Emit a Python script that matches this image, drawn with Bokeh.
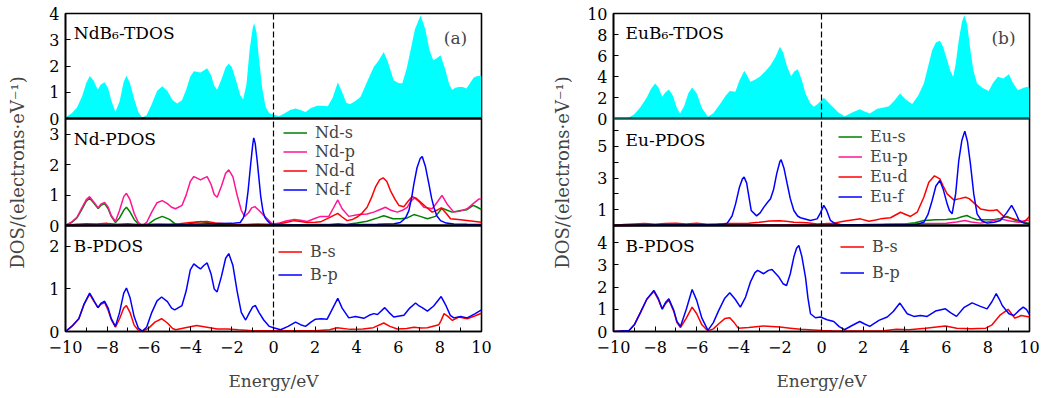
from bokeh.plotting import figure
from bokeh.layouts import row
from bokeh.models import Range1d, FixedTicker, Span, Label, Legend, LegendItem
from bokeh.embed import file_html
from bokeh.resources import INLINE

# ---------------- data (energy in eV, DOS in electrons/eV) ----------------
nd_tdos = [(-10,0.05),(-9.7,0.2),(-9.45,0.42),(-9.2,0.85),(-9.0,1.35),(-8.83,1.62),(-8.65,1.45),(-8.45,1.1),
           (-8.3,1.3),(-8.12,1.38),(-7.95,1.15),(-7.8,0.7),(-7.6,0.25),(-7.4,0.65),(-7.2,1.4),(-7.07,1.63),
           (-6.9,1.35),(-6.7,0.75),(-6.5,0.25),(-6.31,0.04),(-6.1,0.12),(-5.85,0.55),(-5.6,1.05),(-5.35,1.23),
           (-5.1,1.05),(-4.85,0.7),(-4.63,0.57),(-4.4,0.7),(-4.2,1.1),(-4.0,1.6),(-3.83,1.8),(-3.51,1.75),
           (-3.19,1.91),(-3.0,1.65),(-2.85,1.25),(-2.71,1.1),(-2.5,1.5),(-2.3,1.95),(-2.15,2.09),(-2.0,1.95),
           (-1.8,1.45),(-1.6,0.9),(-1.46,0.72),(-1.3,1.3),(-1.15,2.6),(-1.0,3.45),(-0.93,3.63),(-0.82,3.3),
           (-0.7,2.3),(-0.55,1.2),(-0.38,0.44),(-0.2,0.2),(0.0,0.15),(0.26,0.09),(0.5,0.18),(0.8,0.32),
           (1.06,0.38),(1.3,0.32),(1.54,0.25),(1.8,0.4),(2.1,0.49),(2.35,0.49),(2.61,0.47),(2.85,0.8),
           (3.09,1.38),(3.3,1.0),(3.5,0.6),(3.67,0.54),(3.9,0.65),(4.18,0.82),(4.5,1.4),(4.82,1.96),
           (5.05,2.2),(5.3,2.53),(5.5,2.15),(5.78,1.46),(6.0,1.35),(6.19,1.33),(6.4,1.9),(6.59,2.6),
           (6.8,3.4),(7.07,3.92),(7.3,3.4),(7.5,2.6),(7.68,2.22),(7.85,2.3),(8.03,2.41),(8.25,1.9),
           (8.45,1.3),(8.59,1.1),(8.75,1.17),(8.91,1.2),(9.1,1.2),(9.28,1.14),(9.45,1.35),(9.63,1.56),
           (9.8,1.62),(10.0,1.63)]

nd_s = [(-10,0),(-9.7,0.1),(-9.45,0.25),(-9.2,0.55),(-9.0,0.8),(-8.84,0.9),(-8.65,0.75),(-8.43,0.56),
        (-8.3,0.66),(-8.12,0.72),(-7.95,0.55),(-7.8,0.3),(-7.6,0.1),(-7.4,0.25),(-7.2,0.5),(-7.07,0.6),
        (-6.9,0.45),(-6.7,0.2),(-6.5,0.05),(-6.31,0.0),(-6.0,0.05),(-5.7,0.2),(-5.35,0.3),(-5.0,0.2),
        (-4.7,0.04),(-4.3,0.02),(-3.9,0.08),(-3.5,0.13),(-3.1,0.08),(-2.7,0.03),(-2.0,0.02),(-1.0,0.02),
        (0,0.02),(1,0.02),(2,0.03),(2.7,0.03),(3.1,0.06),(3.5,0.03),(4.0,0.08),(4.5,0.14),(5.0,0.25),
        (5.3,0.32),(5.75,0.22),(6.1,0.22),(6.43,0.25),(6.75,0.36),(7.05,0.3),(7.4,0.22),(7.79,0.3),
        (8.1,0.57),(8.35,0.5),(8.59,0.44),(9.0,0.49),(9.3,0.52),(9.6,0.66),(9.8,0.6),(10,0.52)]

nd_p = [(-10,0),(-9.7,0.12),(-9.45,0.27),(-9.2,0.6),(-9.0,0.85),(-8.84,0.95),(-8.65,0.78),(-8.43,0.58),
        (-8.3,0.7),(-8.12,0.76),(-7.95,0.6),(-7.8,0.33),(-7.6,0.13),(-7.4,0.5),(-7.2,0.95),(-7.07,1.06),
        (-6.9,0.85),(-6.7,0.4),(-6.5,0.1),(-6.31,0.0),(-6.1,0.1),(-5.85,0.45),(-5.6,0.75),(-5.35,0.82),
        (-5.1,0.72),(-4.9,0.6),(-4.71,0.55),(-4.4,0.66),(-4.2,1.0),(-4.0,1.45),(-3.83,1.61),(-3.65,1.55),
        (-3.51,1.5),(-3.35,1.56),(-3.19,1.61),(-3.0,1.35),(-2.85,1.02),(-2.71,0.93),(-2.5,1.3),(-2.3,1.72),
        (-2.15,1.83),(-1.95,1.6),(-1.75,1.0),(-1.55,0.5),(-1.39,0.3),(-1.2,0.42),(-1.05,0.58),(-0.9,0.62),
        (-0.7,0.5),(-0.5,0.35),(-0.3,0.22),(-0.1,0.08),(0,0.05),(0.3,0.08),(0.6,0.15),(1.0,0.2),
        (1.3,0.17),(1.62,0.13),(1.95,0.22),(2.26,0.3),(2.66,0.3),(2.9,0.6),(3.09,0.84),(3.3,0.55),
        (3.62,0.3),(4.1,0.36),(4.5,0.38),(4.82,0.44),(5.1,0.52),(5.38,0.6),(5.65,0.5),(5.95,0.44),
        (6.2,0.5),(6.43,0.6),(6.6,0.8),(6.78,0.91),(7.0,0.78),(7.23,0.6),(7.63,0.55),(7.85,0.75),
        (8.1,0.99),(8.35,0.7),(8.67,0.44),(9.0,0.48),(9.31,0.55),(9.6,0.72),(9.87,0.87),(10,0.87)]

nd_d = [(-10,0.0),(-9.5,0.04),(-9.0,0.06),(-8.5,0.05),(-8.0,0.07),(-7.5,0.04),(-7.0,0.06),(-6.5,0.03),
        (-6.0,0.04),(-5.5,0.05),(-5.0,0.04),(-4.5,0.06),(-4.0,0.1),(-3.5,0.12),(-3.2,0.13),(-2.8,0.08),
        (-2.3,0.06),(-1.8,0.04),(-1.3,0.03),(-0.8,0.05),(-0.3,0.04),(0,0.03),(0.5,0.08),(1.0,0.16),
        (1.3,0.13),(1.6,0.1),(2.0,0.11),(2.26,0.12),(2.66,0.25),(3.09,0.4),(3.3,0.28),(3.54,0.16),
        (3.8,0.2),(4.0,0.27),(4.25,0.4),(4.5,0.6),(4.7,0.9),(4.9,1.26),(5.1,1.5),(5.27,1.57),(5.45,1.45),
        (5.62,1.15),(5.85,0.85),(6.03,0.66),(6.27,0.62),(6.47,0.8),(6.67,0.95),(6.85,0.9),(7.07,0.77),
        (7.35,0.6),(7.63,0.44),(7.85,0.5),(8.06,0.58),(8.3,0.4),(8.51,0.22),(9.0,0.19),(9.5,0.15),(10,0.11)]

nd_f = [(-10,0),(-8,0.01),(-6,0.02),(-4,0.04),(-3,0.06),(-2.0,0.07),(-1.6,0.1),(-1.45,0.25),(-1.34,0.5),
        (-1.22,1.15),(-1.1,2.0),(-1.0,2.65),(-0.95,2.88),(-0.88,2.7),(-0.78,2.1),(-0.7,1.55),(-0.61,0.93),
        (-0.5,0.45),(-0.4,0.25),(-0.3,0.16),(-0.15,0.06),(0,0.02),(1,0.02),(2,0.02),(3,0.02),(4,0.03),
        (5,0.04),(5.8,0.06),(6.1,0.1),(6.35,0.25),(6.51,0.49),(6.65,0.95),(6.75,1.37),(6.9,1.9),(7.05,2.2),
        (7.15,2.27),(7.3,1.95),(7.47,1.37),(7.6,0.9),(7.71,0.6),(7.85,0.32),(8.03,0.16),(8.3,0.08),
        (8.67,0.05),(9.3,0.04),(10,0.03)]

nd_bs = [(-10,0),(-9.7,0.12),(-9.36,0.3),(-9.1,0.65),(-8.84,0.88),(-8.65,0.72),(-8.44,0.56),(-8.3,0.64),
         (-8.12,0.68),(-7.95,0.5),(-7.8,0.28),(-7.6,0.1),(-7.4,0.3),(-7.2,0.55),(-7.07,0.61),(-6.9,0.45),
         (-6.7,0.15),(-6.5,0.03),(-6.31,0.0),(-6.0,0.08),(-5.7,0.22),(-5.38,0.3),(-5.1,0.2),(-4.85,0.07),
         (-4.7,0.04),(-4.3,0.08),(-3.7,0.14),(-3.2,0.1),(-2.7,0.06),(-2.2,0.06),(-1.7,0.04),(-1.0,0.02),
         (0,0.02),(1,0.02),(2,0.02),(2.7,0.04),(3.06,0.09),(3.7,0.05),(4.3,0.06),(4.8,0.09),(5.3,0.2),
         (5.6,0.12),(5.95,0.06),(6.4,0.07),(6.75,0.1),(7.1,0.08),(7.4,0.09),(7.95,0.16),(8.05,0.25),
         (8.2,0.42),(8.4,0.35),(8.6,0.26),(8.91,0.34),(9.31,0.3),(9.7,0.37),(10,0.43)]

nd_bp = [(-10,0),(-9.7,0.12),(-9.36,0.3),(-9.1,0.65),(-8.84,0.9),(-8.65,0.74),(-8.44,0.56),(-8.3,0.66),
         (-8.12,0.71),(-7.95,0.55),(-7.8,0.3),(-7.6,0.12),(-7.4,0.45),(-7.2,0.9),(-7.07,1.02),(-6.9,0.8),
         (-6.7,0.35),(-6.5,0.08),(-6.31,0.01),(-6.1,0.1),(-5.85,0.45),(-5.6,0.72),(-5.38,0.81),(-5.1,0.7),
         (-4.9,0.55),(-4.75,0.51),(-4.4,0.61),(-4.2,0.95),(-4.0,1.45),(-3.83,1.59),(-3.65,1.52),(-3.51,1.47),
         (-3.35,1.55),(-3.19,1.61),(-3.0,1.35),(-2.85,1.0),(-2.71,0.93),(-2.5,1.3),(-2.3,1.72),(-2.15,1.83),
         (-1.95,1.55),(-1.75,0.95),(-1.55,0.45),(-1.34,0.27),(-1.15,0.45),(-1.0,0.58),(-0.87,0.61),
         (-0.7,0.45),(-0.47,0.27),(-0.2,0.12),(0,0.09),(0.34,0.04),(0.7,0.12),(1.06,0.22),(1.3,0.16),
         (1.54,0.12),(1.8,0.22),(2.02,0.29),(2.3,0.3),(2.58,0.29),(2.85,0.55),(3.09,0.78),(3.3,0.55),
         (3.62,0.32),(3.94,0.35),(4.34,0.31),(4.6,0.38),(4.82,0.42),(5.0,0.4),(5.35,0.56),(5.55,0.45),
         (5.78,0.34),(6.27,0.38),(6.55,0.55),(6.83,0.67),(7.0,0.6),(7.15,0.56),(7.4,0.48),(7.7,0.6),
         (8.06,0.82),(8.3,0.6),(8.5,0.38),(8.67,0.32),(9.0,0.35),(9.31,0.32),(9.7,0.42),(10,0.51)]

eu_tdos = [(-10,0),(-9.5,0.03),(-9.25,0.1),(-9.0,0.4),(-8.7,1.1),(-8.4,2.0),(-8.2,2.8),(-8.0,3.33),
           (-7.85,3.0),(-7.66,2.06),(-7.5,2.5),(-7.34,2.76),(-7.15,2.2),(-6.95,1.0),(-6.8,0.48),(-6.6,1.2),
           (-6.4,2.4),(-6.22,2.95),(-6.0,2.4),(-5.75,1.0),(-5.46,0.16),(-5.2,0.5),(-4.86,1.43),(-4.6,2.2),
           (-4.41,2.63),(-4.14,2.54),(-3.95,3.6),(-3.71,4.54),(-3.55,4.0),(-3.42,3.49),(-3.2,3.7),(-2.94,4.03),
           (-2.7,4.5),(-2.45,5.08),(-2.2,5.9),(-2.0,6.83),(-1.85,6.3),(-1.65,4.92),(-1.46,4.03),(-1.3,4.5),
           (-1.14,4.7),(-0.95,3.7),(-0.77,2.38),(-0.55,1.5),(-0.37,1.11),(-0.18,1.37),(0.11,1.97),(0.3,1.6),
           (0.51,1.17),(0.8,0.6),(1.11,0.22),(1.5,0.6),(1.84,0.89),(2.05,0.7),(2.32,0.48),(2.68,0.92),
           (3.0,1.05),(3.24,1.17),(3.5,1.7),(3.77,2.38),(4.05,1.8),(4.36,1.37),(4.65,2.2),(4.92,3.33),
           (5.12,4.9),(5.32,6.5),(5.5,7.25),(5.69,7.4),(5.85,6.8),(6.04,5.56),(6.2,4.5),(6.33,3.97),
           (6.45,5.2),(6.6,7.46),(6.75,9.2),(6.87,9.84),(7.0,9.0),(7.16,6.5),(7.3,4.6),(7.48,3.33),
           (7.75,2.9),(8.04,2.63),(8.25,3.4),(8.48,3.97),(8.74,3.81),(9.01,4.22),(9.2,3.4),(9.44,2.7),
           (9.7,2.9),(9.89,3.02),(10,2.86)]

eu_s = [(-10,0),(-8,0.02),(-6,0.03),(-4,0.03),(-2,0.04),(0,0.04),(2,0.05),(3,0.06),(4,0.1),(4.5,0.18),
        (4.92,0.32),(5.48,0.36),(6.0,0.38),(6.43,0.42),(6.75,0.55),(6.99,0.63),(7.2,0.5),(7.48,0.36),
        (8.0,0.36),(8.28,0.36),(8.6,0.45),(8.92,0.57),(9.2,0.4),(9.57,0.21),(10,0.15)]

eu_p = [(-10,0),(-8,0.02),(-6,0.03),(-4,0.04),(-2,0.05),(0,0.04),(2,0.06),(3.64,0.1),(5,0.12),(6,0.15),
        (6.5,0.22),(6.9,0.32),(7.2,0.22),(7.64,0.15),(8.1,0.25),(8.6,0.42),(9.0,0.3),(9.5,0.2),(9.75,0.3),
        (10,0.35)]

eu_d = [(-10,0.0),(-9.5,0.06),(-9.0,0.1),(-8.5,0.12),(-8.0,0.08),(-7.5,0.12),(-7.0,0.15),(-6.5,0.1),
        (-6.0,0.14),(-5.5,0.08),(-5.0,0.1),(-4.5,0.12),(-4.0,0.12),(-3.5,0.15),(-3.0,0.2),(-2.5,0.28),
        (-2.0,0.3),(-1.6,0.25),(-1.33,0.2),(-0.7,0.17),(-0.2,0.1),(0.2,0.12),(0.59,0.15),(1.0,0.25),
        (1.3,0.32),(1.87,0.42),(2.28,0.27),(2.6,0.35),(2.84,0.42),(3.32,0.49),(3.8,0.84),(4.05,0.7),
        (4.28,0.57),(4.6,0.84),(4.92,1.79),(5.16,2.74),(5.43,3.14),(5.69,2.95),(5.85,2.5),(6.04,2.0),
        (6.36,1.62),(6.65,1.7),(6.92,1.79),(7.1,1.7),(7.29,1.48),(7.64,1.05),(8.04,0.95),(8.25,0.95),
        (8.44,0.99),(8.76,0.57),(9.25,0.42),(9.73,0.21),(10,0.57)]

eu_f = [(-10,0),(-8,0.03),(-6,0.04),(-5,0.06),(-4.7,0.08),(-4.53,0.15),(-4.3,0.6),(-4.13,1.37),(-3.95,2.4),
        (-3.8,2.95),(-3.72,3.06),(-3.6,2.7),(-3.5,1.9),(-3.38,0.95),(-3.12,0.61),(-2.95,0.8),(-2.77,1.16),
        (-2.6,1.45),(-2.45,1.69),(-2.3,2.3),(-2.15,3.3),(-2.0,4.05),(-1.94,4.16),(-1.8,3.6),(-1.65,2.64),
        (-1.5,1.7),(-1.33,0.95),(-1.15,0.6),(-1.01,0.49),(-0.53,0.32),(-0.21,0.42),(-0.05,0.8),(0.11,1.27),
        (0.25,0.95),(0.43,0.32),(0.65,0.12),(0.91,0.06),(2,0.04),(3,0.05),(4,0.05),(4.6,0.08),(4.92,0.2),
        (5.12,0.7),(5.32,1.58),(5.5,2.5),(5.69,2.85),(5.85,2.3),(6.04,1.37),(6.15,0.95),(6.28,0.74),
        (6.45,2.0),(6.6,4.11),(6.75,5.4),(6.89,5.97),(7.02,5.3),(7.16,3.9),(7.32,2.0),(7.48,0.74),
        (7.7,0.3),(7.96,0.15),(8.3,0.2),(8.6,0.32),(8.9,0.8),(9.14,1.27),(9.3,0.9),(9.5,0.32),(9.75,0.15),
        (10,0.1)]

eu_bs = [(-10,0),(-9.25,0.05),(-9.0,0.3),(-8.7,0.85),(-8.4,1.45),(-8.06,1.8),(-7.85,1.45),(-7.66,1.0),
         (-7.5,1.25),(-7.34,1.42),(-7.1,0.9),(-6.95,0.4),(-6.78,0.18),(-6.5,0.6),(-6.22,1.1),(-6.0,0.8),
         (-5.75,0.3),(-5.46,0.02),(-5.2,0.12),(-4.94,0.35),(-4.65,0.58),(-4.41,0.62),(-4.2,0.4),(-4.0,0.15),
         (-3.5,0.18),(-2.8,0.25),(-2.0,0.2),(-1.5,0.15),(-1.0,0.1),(0,0.05),(0.5,0.03),(1,0.02),(2,0.02),
         (3,0.03),(3.6,0.1),(4.2,0.08),(5.0,0.15),(5.96,0.25),(6.5,0.15),(7.2,0.12),(7.9,0.15),(8.2,0.3),
         (8.6,0.75),(8.97,1.0),(9.3,0.6),(9.6,0.72),(10,0.65)]

eu_bp = [(-10,0),(-9.25,0.05),(-9.0,0.3),(-8.7,0.87),(-8.4,1.45),(-8.06,1.85),(-7.85,1.5),(-7.66,1.02),
         (-7.5,1.3),(-7.34,1.47),(-7.1,0.95),(-6.95,0.45),(-6.78,0.23),(-6.5,1.0),(-6.22,1.89),(-6.0,1.4),
         (-5.75,0.6),(-5.46,0.05),(-5.2,0.4),(-4.94,0.95),(-4.65,1.5),(-4.41,1.74),(-4.15,1.45),(-3.9,1.1),
         (-3.65,1.55),(-3.42,2.22),(-3.2,2.65),(-3.07,2.75),(-2.78,2.6),(-2.55,2.75),(-2.38,2.79),(-2.05,2.45),
         (-1.85,2.15),(-1.68,2.07),(-1.5,2.6),(-1.33,3.35),(-1.2,3.75),(-1.09,3.87),(-0.95,3.4),(-0.77,2.45),
         (-0.65,1.5),(-0.53,0.8),(-0.29,0.62),(-0.05,0.65),(0.27,0.53),(0.59,0.45),(0.85,0.22),(1.1,0.08),
         (1.47,0.27),(1.84,0.45),(2.05,0.35),(2.32,0.23),(2.76,0.5),(3.16,0.65),(3.45,0.9),(3.77,1.28),
         (4.12,0.8),(4.44,0.68),(4.76,0.72),(5.08,0.68),(5.48,0.92),(5.96,1.02),(6.2,0.85),(6.49,0.68),
         (6.84,1.07),(7.24,1.29),(7.64,1.13),(7.96,1.02),(8.2,1.35),(8.4,1.7),(8.55,1.45),(8.69,1.17),
         (9.01,0.8),(9.25,0.72),(9.5,0.95),(9.7,1.1),(9.85,1.0),(10,0.77)]

x_ticks = [-10, -8, -6, -4, -2, 0, 2, 4, 6, 8, 10]
x_minor = [-9, -7, -5, -3, -1, 1, 3, 5, 7, 9]
nd_tdos_ticks, nd_pd_ticks, nd_b_ticks = [0, 1, 2, 3, 4], [0, 1, 2, 3], [0, 1, 2]
eu_tdos_ticks, eu_pd_ticks, eu_pd_minor, eu_b_ticks = [0, 2, 4, 6, 8, 10], [1, 3, 5], [2, 4, 6], [0, 1, 2, 3, 4]
y_label_text = "DOS/(electrons\u00b7eV\u207b\u00b9)"

FONT = "DejaVu Serif"
CYAN = "#00FFFF"
GREEN = "#008000"
PINK = "#FF1493"
RED = "#FF0000"
BLUE = "#0000FF"

# layout geometry of the three stacked sub-panels (pixels inside the 318 px frame)
FRAME_H = 318
SUBS = {"top": (213, 105), "mid": (106, 107), "bot": (0, 106)}


def xs(d):
    return [a for a, b in d]


def ys(d):
    return [b for a, b in d]


def panel_fig(width, left, right, label_standoff, vmax, ticks, minors, letter, titles, legends, data, zero_color):
    p = figure(width=width, height=398, x_range=Range1d(-10, 10), y_range=Range1d(0, FRAME_H),
               output_backend="svg", toolbar_location=None,
               min_border_left=left, min_border_right=right, min_border_top=13, min_border_bottom=67)
    # one y-range per stacked sub-panel
    for name, (b, h) in SUBS.items():
        s = h / vmax[name]
        p.extra_y_ranges[name] = Range1d(-b / s, (FRAME_H - b) / s)
    p.grid.visible = False
    p.outline_line_color = "black"
    p.outline_line_width = 1.6
    p.background_fill_color = "white"
    p.border_fill_color = "white"

    # y axis: tick positions of every sub-panel expressed in frame pixels
    tick_pos, minor_pos, overrides = [], [], {}
    for name, (b, h) in SUBS.items():
        s = h / vmax[name]
        for v in ticks[name]:
            pos = round(b + v * s, 4)
            tick_pos.append(pos)
            overrides[pos] = str(v)
        for v in minors.get(name, []):
            minor_pos.append(round(b + v * s, 4))
    ya = p.yaxis[0]
    ya.ticker = FixedTicker(ticks=tick_pos, minor_ticks=minor_pos)
    ya.major_label_overrides = overrides
    ya.major_tick_in = 5
    ya.major_tick_out = 0
    ya.minor_tick_in = 5
    ya.minor_tick_out = 0
    ya.axis_line_width = 1.6
    ya.major_label_text_font = FONT
    ya.major_label_text_font_size = "16px"
    ya.major_label_text_color = "black"
    ya.major_label_standoff = 6
    ya.axis_label = y_label_text
    ya.axis_label_text_font = FONT
    ya.axis_label_text_font_size = "18px"
    ya.axis_label_text_font_style = "normal"
    ya.axis_label_standoff = label_standoff

    xa = p.xaxis[0]
    xa.ticker = FixedTicker(ticks=x_ticks, minor_ticks=x_minor)
    xa.major_label_overrides = {t: (("\u2212" + str(-t)) if t < 0 else str(t)) for t in x_ticks}
    xa.major_tick_in = 5
    xa.major_tick_out = 0
    xa.minor_tick_in = 4
    xa.minor_tick_out = 0
    xa.axis_line_width = 1.6
    xa.major_label_text_font = FONT
    xa.major_label_text_font_size = "16px"
    xa.major_label_text_color = "black"
    xa.major_label_standoff = 9
    xa.axis_label = "Energy/eV"
    xa.axis_label_text_font = FONT
    xa.axis_label_text_font_size = "17px"
    xa.axis_label_text_font_style = "normal"
    xa.axis_label_standoff = 15

    # total DOS (filled)
    tdos = data["tdos"]
    p.varea(x=xs(tdos), y1=0, y2=ys(tdos), fill_color=CYAN, fill_alpha=1.0, y_range_name="top")

    # partial DOS lines
    rend = {}
    for key, color, rng in [("s", GREEN, "mid"), ("p", PINK, "mid"), ("d", RED, "mid"), ("f", BLUE, "mid"),
                            ("bs", RED, "bot"), ("bp", BLUE, "bot")]:
        d = data[key]
        rend[key] = p.line(xs(d), ys(d), line_color=color, line_width=1.5, y_range_name=rng)

    # separators between sub-panels (the zero lines of upper panels)
    p.add_layout(Span(location=0, dimension="width", line_color=zero_color, line_width=2.6,
                      y_range_name="top", level="overlay"))
    p.add_layout(Span(location=0, dimension="width", line_color="black", line_width=2.6,
                      y_range_name="mid", level="overlay"))
    # Fermi level
    p.add_layout(Span(location=0, dimension="height", line_color="black", line_width=1.2,
                      line_dash="6 3", level="overlay"))

    for name, (tx, ty, text) in titles.items():
        p.add_layout(Label(x=tx, y=ty, text=text, text_font=FONT, text_font_size="17px",
                           text_baseline="middle", text_align="left", text_color="black",
                           y_range_name=name))
    p.add_layout(Label(x=letter[0], y=letter[1], text=letter[2], text_font=FONT, text_font_size="17px",
                       text_baseline="middle", text_align="center", y_range_name="top"))

    for keys, labels, loc, sp in legends:
        items = [LegendItem(label=lab, renderers=[rend[k]]) for k, lab in zip(keys, labels)]
        p.add_layout(Legend(items=items, location=loc, padding=0, margin=0, spacing=sp,
                            glyph_width=24, glyph_height=19, label_height=19, label_standoff=8,
                            label_text_font=FONT, label_text_font_size="16px",
                            border_line_color=None, background_fill_alpha=0.0))
    return p


fig_a = panel_fig(
    540, 65, 59, 18,
    {"top": 4, "mid": 3.52, "bot": 2.49},
    {"top": nd_tdos_ticks, "mid": nd_pd_ticks, "bot": nd_b_ticks}, {},
    (8.75, 3.08, "(a)"),
    {"top": (-9.6, 3.27, "NdB\u2086-TDOS"), "mid": (-9.6, 2.83, "Nd-PDOS"), "bot": (-9.6, 2.02, "B-PDOS")},
    [(["s", "p", "d", "f"], ["Nd-s", "Nd-p", "Nd-d", "Nd-f"], (218, 132), 0),
     (["bs", "bp"], ["B-s", "B-p"], (213, 47), 4)],
    {"tdos": nd_tdos, "s": nd_s, "p": nd_p, "d": nd_d, "f": nd_f, "bs": nd_bs, "bp": nd_bp},
    "black")

fig_b = panel_fig(
    501, 73, 12, 11,
    {"top": 10, "mid": 6.77, "bot": 4.77},
    {"top": eu_tdos_ticks, "mid": eu_pd_ticks, "bot": eu_b_ticks}, {"mid": eu_pd_minor},
    (8.75, 7.7, "(b)"),
    {"top": (-9.42, 8.1, "EuB\u2086-TDOS"), "mid": (-9.42, 5.44, "Eu-PDOS"), "bot": (-9.42, 3.87, "B-PDOS")},
    [(["s", "p", "d", "f"], ["Eu-s", "Eu-p", "Eu-d", "Eu-f"], (225, 125), 1),
     (["bs", "bp"], ["B-s", "B-p"], (227, 49), 7)],
    {"tdos": eu_tdos, "s": eu_s, "p": eu_p, "d": eu_d, "f": eu_f, "bs": eu_bs, "bp": eu_bp},
    "#0b5555")

layout = row(fig_a, fig_b, spacing=0)

open("out.html", "w").write(file_html(layout, INLINE))
